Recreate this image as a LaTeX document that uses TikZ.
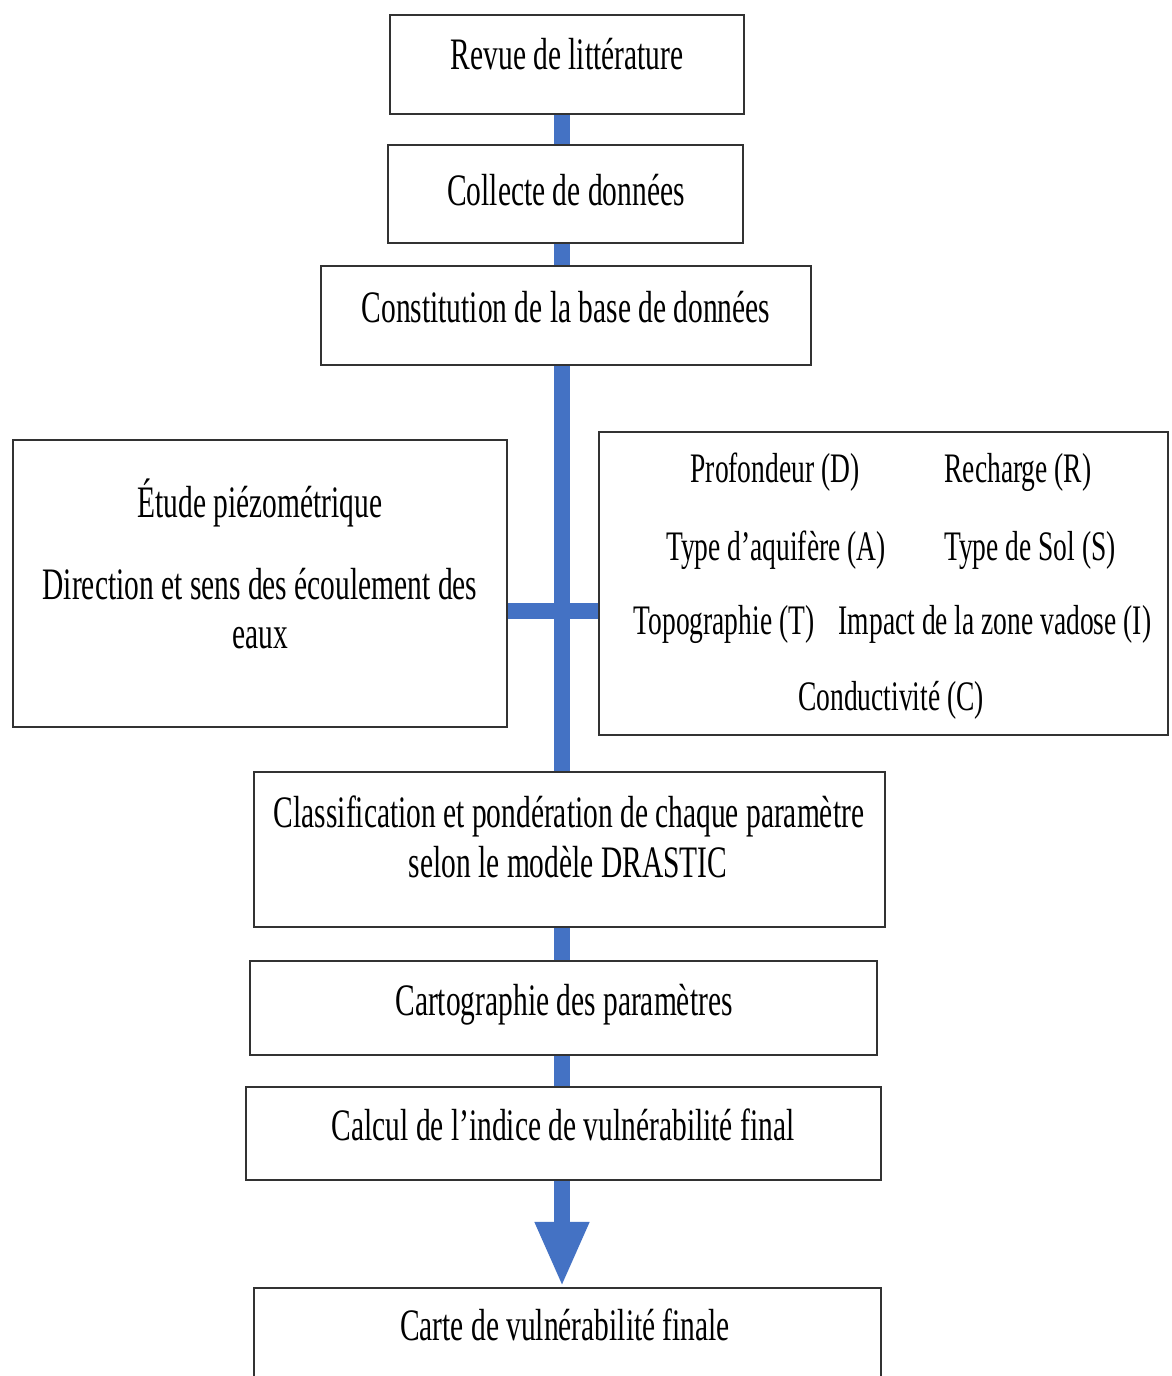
\documentclass[tikz,border=0pt]{standalone}
\usepackage{fontspec}
\setmainfont{Liberation Serif}[FakeStretch=0.655]
\usetikzlibrary{arrows.meta,fit}
\definecolor{conblue}{RGB}{68,114,196}
\definecolor{boxline}{RGB}{50,50,50}
\tikzset{
  box/.style={draw=boxline, line width=2.2pt, fill=white, inner sep=0pt, rectangle},
  txt/.style={font=\fontsize{45}{50}\selectfont, inner sep=0pt, anchor=base, text=black},
  ptxt/.style={txt, font=\fontsize{42}{48}\selectfont},
  conn/.style={draw=conblue, line width=16pt, line cap=butt}
}
\begin{document}
\begin{tikzpicture}[x=1pt,y=-1pt]
\useasboundingbox (0,0) rectangle (1171,1376);
\clip (0,0) rectangle (1171,1376);
\fill[white] (0,0) rectangle (1171,1376);
\coordinate (sp) at (562,0);
\coordinate (hb) at (0,611);

% boxes
\node[box, fit={(390,15) (744,114)}] (b1) {};
\node[box, fit={(388,145) (743,243)}] (b2) {};
\node[box, fit={(321,266) (811,365)}] (b3) {};
\node[box, fit={(13,440) (507,727)}] (bl) {};
\node[box, fit={(599,432) (1168,735)}] (br) {};
\node[box, fit={(254,772) (885,927)}] (b6) {};
\node[box, fit={(250,961) (877,1055)}] (b7) {};
\node[box, fit={(246,1087) (881,1180)}] (b8) {};
\node[box, fit={(254,1288) (881,1420)}] (b9) {};

% connectors
\draw[conn] (b1.south -| sp) -- (b2.north -| sp);
\draw[conn] (b2.south -| sp) -- (b3.north -| sp);
\draw[conn] (b3.south -| sp) -- (b6.north -| sp);
\draw[conn] (bl.east |- hb) -- (br.west |- hb);
\draw[conn] (b6.south -| sp) -- (b7.north -| sp);
\draw[conn] (b7.south -| sp) -- (b8.north -| sp);
\draw[conn, -{Triangle[width=50pt,length=65pt]}] (b8.south -| sp) -- (b9.north -| sp);

% texts
\node[txt] (t1) at (567,69) {Revue de littérature};
\node[txt] (t2) at (566,205) {Collecte de données};
\node[txt] (t3) at (566,322) {Constitution de la base de données};
\node[txt] (tl1) at (260,517) {Étude piézométrique};
\node[txt] (tl2) at (260,599) {Direction et sens des écoulement des};
\node[txt] (tl3) at (260,648) {eaux};
\node[ptxt] (p1) at (775,482) {Profondeur (D)};
\node[ptxt] (p2) at (1018,482) {Recharge (R)};
\node[ptxt] (p3) at (776,560) {Type d’aquifère (A)};
\node[ptxt] (p4) at (1030,560) {Type de Sol (S)};
\node[ptxt] (p5) at (724,634) {Topographie (T)};
\node[ptxt] (p6) at (995,634) {Impact de la zone vadose (I)};
\node[ptxt] (p7) at (891,710) {Conductivité (C)};
\node[txt] (t6a) at (569,827) {Classification et pondération de chaque paramètre};
\node[txt] (t6b) at (568,877) {selon le modèle DRASTIC};
\node[txt] (t7) at (564,1015) {Cartographie des paramètres};
\node[txt] (t8) at (563,1140) {Calcul de l’indice de vulnérabilité final};
\node[txt] (t9) at (565,1340) {Carte de vulnérabilité finale};
\end{tikzpicture}
\end{document}
